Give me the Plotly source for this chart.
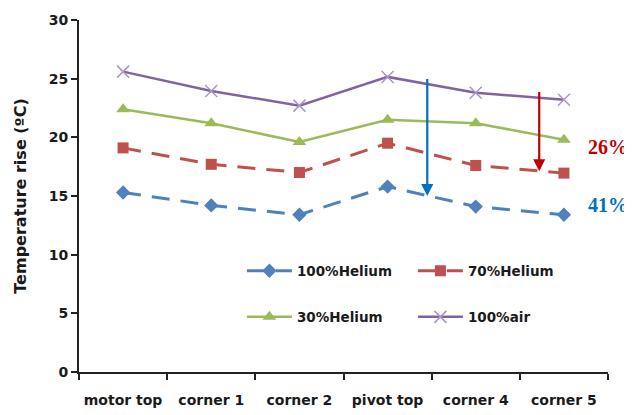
import plotly.graph_objects as go

categories = ["motor top", "corner 1", "corner 2", "pivot top", "corner 4", "corner 5"]
helium100 = [15.3, 14.2, 13.4, 15.8, 14.1, 13.4]
helium70 = [19.1, 17.7, 17.0, 19.5, 17.6, 16.95]
helium30 = [22.4, 21.2, 19.6, 21.5, 21.2, 19.8]
air100 = [25.6, 23.95, 22.7, 25.15, 23.8, 23.2]

# arrows: (x position in category index units, y start, y end, colour)
arrow_x = [3.45, 4.72]
arrow_y0 = [25.1, 24.0]
arrow_y1 = [15.0, 17.1]
arrow_colors = ["#0070C0", "#C00000"]
label_text = ["26%", "41%"]
label_y = [19.2, 14.2]
label_colors = ["#C00000", "#0070C0"]

FONT = "DejaVu Sans"
TXT = "#1a1a1a"

fig = go.Figure()
fig.add_trace(go.Scatter(x=categories, y=helium100, name="100%Helium", mode="lines+markers",
                         line=dict(color="#4F81BD", width=3, dash="18px,11px"),
                         marker=dict(symbol="diamond", size=11, color="#4F81BD"), legend="legend"))
fig.add_trace(go.Scatter(x=categories, y=helium70, name="70%Helium", mode="lines+markers",
                         line=dict(color="#C0504D", width=3, dash="18px,11px"),
                         marker=dict(symbol="square", size=11, color="#C0504D"), legend="legend"))
fig.add_trace(go.Scatter(x=categories, y=helium30, name="30%Helium", mode="lines+markers",
                         line=dict(color="#9BBB59", width=2.5),
                         marker=dict(symbol="triangle-up", size=12, color="#9BBB59"), legend="legend2"))
fig.add_trace(go.Scatter(x=categories, y=air100, name="100%air", mode="lines+markers",
                         line=dict(color="#8064A2", width=2.5),
                         marker=dict(symbol="x-thin", size=12, line=dict(color="#A996CC", width=1.5)),
                         legend="legend2"))

annotations = []
for ax_, y0, y1, c in zip(arrow_x, arrow_y0, arrow_y1, arrow_colors):
    annotations.append(dict(x=ax_, y=y1, ax=ax_, ay=y0, xref="x", yref="y", axref="x", ayref="y",
                            showarrow=True, arrowhead=2, arrowsize=1.1, arrowwidth=2.2,
                            arrowcolor=c, text=""))
for t, y, c in zip(label_text, label_y, label_colors):
    annotations.append(dict(x=0.958, y=y, xref="paper", yref="y", xanchor="left", yanchor="middle",
                            text="<b>%s</b>" % t, showarrow=False,
                            font=dict(family="Liberation Serif", size=20, color=c)))

legend_common = dict(orientation="h", entrywidth=111, entrywidthmode="pixels", itemwidth=45,
                     font=dict(family=FONT, size=13.5, color=TXT, weight="bold"),
                     bgcolor="rgba(0,0,0,0)", xanchor="left", yanchor="middle", tracegroupgap=0)

fig.update_layout(
    width=624, height=407,
    margin=dict(l=71, r=24, t=12, b=43, autoexpand=False),
    paper_bgcolor="white", plot_bgcolor="white",
    font=dict(family=FONT, size=14, color=TXT),
    legend=dict(x=0.308, y=0.287, **legend_common),
    legend2=dict(x=0.308, y=0.156, **legend_common),
    annotations=annotations,
    xaxis=dict(type="category", range=[-0.5, 5.5], showline=True, linecolor="#222222", linewidth=2,
               ticks="outside", tickson="boundaries", ticklen=6, tickwidth=2, tickcolor="#222222",
               showgrid=False, ticklabelstandoff=14, tickangle=0, automargin=False,
               tickfont=dict(family=FONT, size=14, color=TXT, weight="bold")),
    yaxis=dict(range=[0, 30], dtick=5, showline=True, linecolor="#222222", linewidth=2,
               ticks="outside", ticklen=6, tickwidth=2, tickcolor="#222222", showgrid=False,
               zeroline=False, automargin=False,
               tickfont=dict(family=FONT, size=14, color=TXT, weight="bold"),
               title=dict(text="<b>Temperature rise (ºC)</b>", standoff=18,
                          font=dict(family=FONT, size=16, color=TXT))),
)

fig.write_html("out.html")
